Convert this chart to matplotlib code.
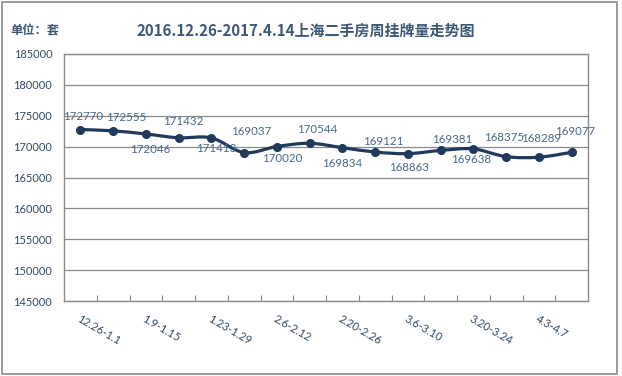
import matplotlib
matplotlib.use("Agg")
import matplotlib.pyplot as plt
from matplotlib.path import Path
from matplotlib.patches import PathPatch, Rectangle
import numpy as np

# data
weeks = ["12.26-1.1", "", "1.9-1.15", "", "1.23-1.29", "", "2.6-2.12", "",
         "2.20-2.26", "", "3.6-3.10", "", "3.20-3.24", "", "4.3-4.7", ""]
listings = [172770, 172555, 172046, 171432, 171413, 169037, 170020, 170544,
            169834, 169121, 168863, 169381, 169638, 168375, 168289, 169077]
y_ticks = list(range(145000, 185001, 5000))

# label offsets in pixels (dx, dy)
label_offsets = [(3, 13), (13, 13), (4, -16), (5, 16), (5, -11), (7, 21), (5, -12), (8, 14),
                 (0, -16), (8, 11), (1, -14), (12, 11), (-2, -11), (-2, 19), (2, 19), (3, 21)]

TITLE_C = "#3b5878"
TICK_C = "#2f4866"
LABEL_C = "#46688f"
LINE_C = "#1f3a5a"
GRID_C = "#8a8a8a"

plt.rcParams['font.family'] = ['Lato', 'DejaVu Sans']

fig = plt.figure(figsize=(6.22, 3.76), dpi=100)
ax = fig.add_axes([64 / 622, 1 - 301 / 376, 524 / 622, 247 / 376])

x = np.arange(len(listings))
y = np.array(listings, dtype=float)

# smoothed line like the spreadsheet one (bezier segments through the points)
verts = [(x[0], y[0])]
codes = [Path.MOVETO]
n = len(x)
for i in range(n - 1):
    p0 = np.array([x[max(i - 1, 0)], y[max(i - 1, 0)]])
    p1 = np.array([x[i], y[i]])
    p2 = np.array([x[i + 1], y[i + 1]])
    p3 = np.array([x[min(i + 2, n - 1)], y[min(i + 2, n - 1)]])
    c1 = p1 + (p2 - p0) / 6.0
    c2 = p2 - (p3 - p1) / 6.0
    verts += [tuple(c1), tuple(c2), tuple(p2)]
    codes += [Path.CURVE4] * 3
ax.add_patch(PathPatch(Path(verts, codes), facecolor="none", edgecolor=LINE_C,
                       lw=2.3, zorder=3, capstyle="round", joinstyle="round"))
ax.plot(x, y, ls="none", marker="o", ms=5.5, color=LINE_C, zorder=4)

for xi, yi, v, off in zip(x, y, listings, label_offsets):
    ax.annotate(str(v), (xi, yi), xytext=off, textcoords="offset pixels",
                ha="center", va="center", fontsize=8.3, color=LABEL_C, zorder=5)

ax.set_xlim(-0.5, n - 0.5)
ax.set_ylim(145000, 185000)
ax.set_yticks(y_ticks)
ax.set_yticklabels([str(t) for t in y_ticks])
ax.tick_params(axis="y", length=0, pad=8.5, labelsize=7.9, labelcolor=TICK_C)
ax.grid(axis="y", color=GRID_C, lw=0.9)
ax.set_axisbelow(True)

ax.set_xticks(x)
ax.set_xticklabels(weeks, rotation=-30, rotation_mode="anchor", ha="left", va="top")
ax.tick_params(axis="x", which="major", length=0, pad=9, labelsize=8.0, labelcolor=TICK_C)
ax.set_xticks(np.arange(0.5, n - 1, 1.0), minor=True)
ax.tick_params(axis="x", which="minor", direction="in", length=4.5, width=0.8, color=GRID_C)

for s in ax.spines.values():
    s.set_color(GRID_C)
    s.set_linewidth(1.0)

fig.text(306 / 622, 1 - 31 / 376, "2016.12.26-2017.4.14上海二手房周挂牌量走势图",
         ha="center", va="center", fontsize=10.8, fontweight="bold", color=TITLE_C,
         family=['Noto Sans CJK SC', 'DejaVu Sans'])
fig.text(10 / 622, 1 - 31 / 376, "单位：套", ha="left", va="center", fontsize=8.8,
         fontweight="bold", color=TITLE_C, family=['Noto Sans CJK SC', 'DejaVu Sans'])

fig.patches.append(Rectangle((2 / 622, 2 / 376), 615 / 622, 372 / 376, transform=fig.transFigure,
                             fill=False, edgecolor="#8a8a8a", lw=1.2))

fig.savefig("out.png", dpi=100)
